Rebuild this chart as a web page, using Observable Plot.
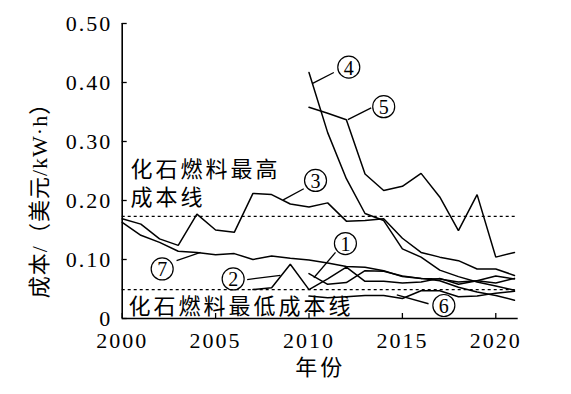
<!DOCTYPE html>
<html>
<head>
<meta charset="utf-8">
<script src="https://cdn.jsdelivr.net/npm/d3@7"></script>
<script src="https://cdn.jsdelivr.net/npm/@observablehq/plot@0.6"></script>
<style>
  html, body { margin: 0; padding: 0; background: #fff; }
  .cjk text { letter-spacing: 3px; }
  .ytitle text { letter-spacing: 1px; }
  g[aria-label="x-axis tick label"] text, g[aria-label="y-axis tick label"] text { letter-spacing: 2px; }
</style>
</head>
<body>
<div id="chart"></div>
<script>
// ---- data (cost, USD per kWh) ----
const years2000 = [2000,2001,2002,2003,2004,2005,2006,2007,2008,2009,2010,2011,2012,2013,2014,2015,2016,2017,2018,2019,2020,2021];
const years2007 = [2007,2008,2009,2010,2011,2012,2013,2014,2015,2016,2017,2018,2019,2020,2021];
const years2010 = [2010,2011,2012,2013,2014,2015,2016,2017,2018,2019,2020,2021];

const series3 = [0.169,0.160,0.135,0.124,0.177,0.150,0.146,0.212,0.210,0.194,0.189,0.196,0.165,0.166,0.169,0.136,0.112,0.104,0.098,0.084,0.084,0.073];
const series7 = [0.163,0.141,0.129,0.114,0.112,0.108,0.110,0.100,0.106,0.102,0.099,0.094,0.088,0.087,0.081,0.071,0.068,0.064,0.053,0.045,0.039,0.031];
const series2 = [0.049,0.052,0.092,0.049,0.067,0.087,0.063,0.063,0.060,0.062,0.068,0.058,0.064,0.060,0.068];
const series1 = [0.076,0.058,0.061,0.081,0.080,0.072,0.068,0.067,0.062,0.064,0.072,0.067];
const series4 = [0.417,0.315,0.237,0.178,0.166,0.118,0.104,0.082,0.071,0.062,0.055,0.048];
const series5 = [0.358,0.348,0.337,0.245,0.217,0.224,0.246,0.206,0.149,0.210,0.104,0.112];
const series6 = [0.038,0.035,0.037,0.039,0.039,0.034,0.047,0.047,0.037,0.038,0.043,0.046];

const fossilHigh = 0.173;
const fossilLow = 0.049;

const xTicks = [2000,2005,2010,2015,2020];
const yTicks = [0,0.1,0.2,0.3,0.4,0.5];
const xEnd = 2021.2;

// circled series labels (anchor in data units) and leader lines
const seriesLabels = [
  {n:"1", x:2011.95, y:0.127},
  {n:"2", x:2005.94, y:0.067},
  {n:"3", x:2010.35, y:0.234},
  {n:"4", x:2012.13, y:0.426},
  {n:"5", x:2014.0,  y:0.359},
  {n:"6", x:2017.22, y:0.022},
  {n:"7", x:2002.14, y:0.084}
];
const leaders = [
  {x1:2010.26, y1:0.069, x2:2011.42, y2:0.112},
  {x1:2006.69, y1:0.066, x2:2008.47, y2:0.073},
  {x1:2008.62, y1:0.201, x2:2009.72, y2:0.220},
  {x1:2010.17, y1:0.398, x2:2011.33, y2:0.417},
  {x1:2012.08, y1:0.337, x2:2013.33, y2:0.357},
  {x1:2014.7,  y1:0.040, x2:2016.4,  y2:0.025},
  {x1:2002.91, y1:0.098, x2:2004.19, y2:0.112}
];
const notes = [
  {t:"化石燃料最高", x:2000.45, y:0.251},
  {t:"成本线", x:2000.45, y:0.204},
  {t:"化石燃料最低成本线", x:2000.34, y:0.019}
];

// ---- build rows ----
function rows(name, xs, vs) { return xs.map((x, i) => ({series: name, year: x, value: vs[i]})); }
const table = [].concat(
  rows("1", years2010, series1),
  rows("2", years2007, series2),
  rows("3", years2000, series3),
  rows("4", years2010, series4),
  rows("5", years2010, series5),
  rows("6", years2010, series6),
  rows("7", years2000, series7)
);

const FONT = "'Liberation Serif', 'Times New Roman', 'Noto Sans CJK SC', serif";
const CJK = "'Liberation Serif', 'Noto Sans CJK SC', sans-serif";

const chart = Plot.plot({
  width: 571,
  height: 394,
  marginLeft: 121.7,
  marginRight: 53.3,
  marginTop: 23,
  marginBottom: 76,
  x: {domain: [2000, xEnd]},
  y: {domain: [0, 0.5]},
  style: {fontFamily: FONT, fontSize: "22px", color: "black", background: "white", overflow: "visible"},
  marks: [
    Plot.ruleY([fossilHigh, fossilLow], {x1: 2000, x2: xEnd, stroke: "black", strokeWidth: 1.3, strokeDasharray: "3,3"}),
    Plot.line(table, {x: "year", y: "value", z: "series", stroke: "black", strokeWidth: 1.5, strokeLinejoin: "miter"}),
    Plot.link(leaders, {x1: "x1", y1: "y1", x2: "x2", y2: "y2", stroke: "black", strokeWidth: 1.3}),
    Plot.dot(seriesLabels, {x: "x", y: "y", r: 11, stroke: "black", strokeWidth: 1.2, fill: "none"}),
    Plot.text(seriesLabels, {x: "x", y: "y", text: "n", fontSize: 20, fontFamily: FONT, dy: 1}),
    Plot.text(notes, {x: "x", y: "y", text: "t", textAnchor: "start", fontSize: 22, fontFamily: CJK, className: "cjk"}),
    Plot.axisX({ticks: xTicks, tickFormat: d => String(d), tickSize: -5, tickPadding: 19, fontSize: 22, label: null, stroke: "black", strokeWidth: 1.3}),
    Plot.axisY({ticks: yTicks, tickFormat: d => d === 0 ? "0" : d.toFixed(2), tickSize: -5, tickPadding: 15, fontSize: 22, label: null, stroke: "black", strokeWidth: 1.3}),
    Plot.ruleX([2000], {y1: 0, y2: 0.5, stroke: "black", strokeWidth: 1.6}),
    Plot.ruleY([0], {x1: 2000, x2: xEnd, stroke: "black", strokeWidth: 1.6}),
    Plot.text(["年份"], {frameAnchor: "bottom", dy: 56, fontSize: 22, fontFamily: CJK, className: "cjk"}),
    Plot.text(["成本/（美元/kW·h）"], {frameAnchor: "left", textAnchor: "middle", dx: -82, dy: 24, rotate: -90, fontSize: 22, fontFamily: CJK, className: "ytitle"})
  ]
});
document.getElementById("chart").appendChild(chart);
</script>
</body>
</html>
